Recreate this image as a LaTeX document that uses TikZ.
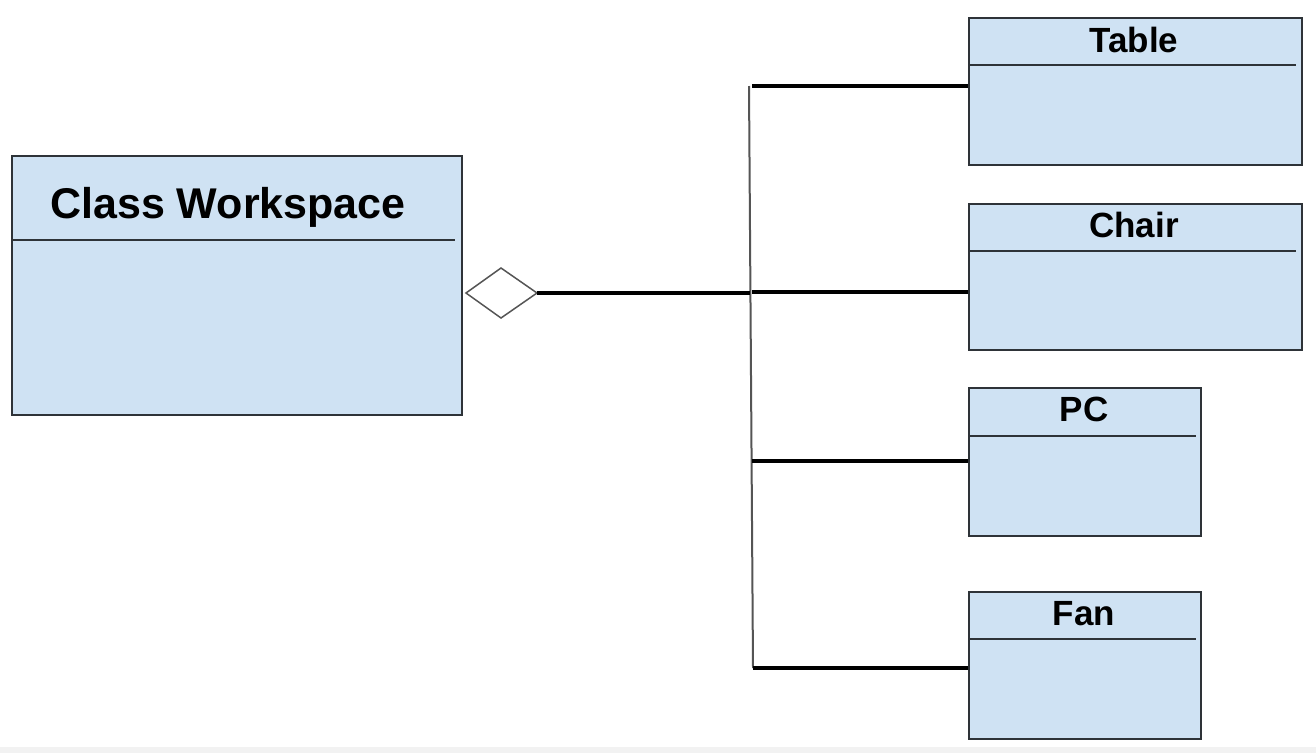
\documentclass[tikz,border=0pt]{standalone}
\usepackage{fontspec}
\setmainfont{Liberation Sans}
\definecolor{clsfill}{HTML}{CFE2F3}
\definecolor{clsedge}{HTML}{2E3338}
\definecolor{busgray}{HTML}{555555}
\begin{document}
\begin{tikzpicture}[x=1pt,y=-1pt,
  cls/.style={draw=clsedge,fill=clsfill,line width=1.5pt,anchor=north west,inner sep=0pt},
  divider/.style={draw=clsedge,line width=1.5pt},
  title/.style={anchor=base,font=\bfseries\fontsize{35}{40}\selectfont,inner sep=0pt},
  bigtitle/.style={anchor=base,font=\bfseries\fontsize{43}{50}\selectfont,inner sep=0pt},
  link/.style={draw=black,line width=4.5pt},
  bus/.style={draw=busgray,line width=2pt},
  agg/.style={draw=busgray,fill=white,line width=1.5pt,line join=miter}]
\useasboundingbox (0,0) rectangle (1316,753);
\fill[white] (0,0) rectangle (1316,753);
\fill[black!5] (0,747) rectangle (1316,753);

% Class Workspace
\node[cls,minimum width=450pt,minimum height=259pt] (ws) at (11,155) {};
\draw[divider] (11,240) -- (455,240);
\node[bigtitle] (wst) at (228,218) {Class Workspace};

% Parts
\node[cls,minimum width=333pt,minimum height=147pt] (table) at (968,17) {};
\draw[divider] (968,65) -- (1296,65);
\node[title] (tablet) at (1134,52) {Table};

\node[cls,minimum width=333pt,minimum height=146pt] (chair) at (968,203) {};
\draw[divider] (968,251) -- (1296,251);
\node[title] (chairt) at (1134,237) {Chair};

\node[cls,minimum width=232pt,minimum height=148pt] (pc) at (968,387) {};
\draw[divider] (968,436) -- (1196,436);
\node[title] (pct) at (1084,421) {PC};

\node[cls,minimum width=232pt,minimum height=147pt] (fan) at (968,591) {};
\draw[divider] (968,639) -- (1196,639);
\node[title] (fant) at (1084,625) {Fan};

% Aggregation diamond
\coordinate (dL) at (466,293);
\coordinate (dT) at (501,268);
\coordinate (dR) at (537,293);
\coordinate (dB) at (501,318);
\draw[agg] (dL) -- (dT) -- (dR) -- (dB) -- cycle;

% Bus
\coordinate (busTop) at (749,86);
\coordinate (busMid) at (750,293);
\coordinate (busBot) at (753,668);
\draw[bus] (busTop) -- (busBot);
\draw[link] (dR) -- (busMid);

\coordinate (jT) at (752,86);
\coordinate (jC) at (752,292);
\coordinate (jP) at (752,461);
\coordinate (jF) at (753,668);
\draw[link] (jT) -- (table.west |- jT);
\draw[link] (jC) -- (chair.west |- jC);
\draw[link] (jP) -- (pc.west |- jP);
\draw[link] (jF) -- (fan.west |- jF);
\end{tikzpicture}
\end{document}
